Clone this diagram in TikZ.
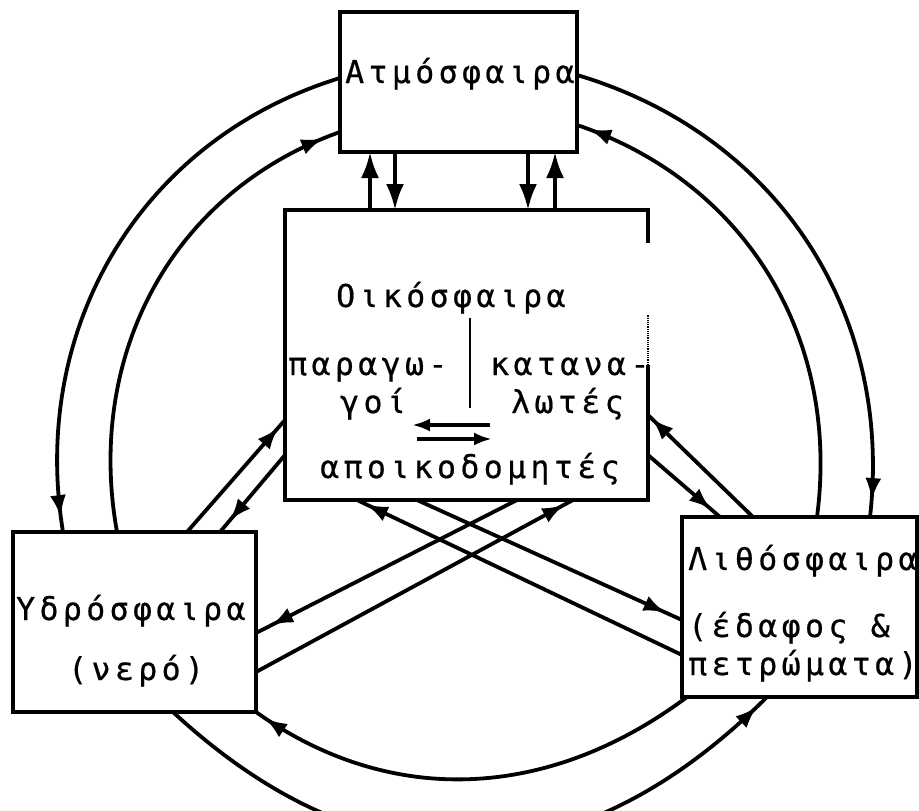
\documentclass[tikz,border=0pt]{standalone}
\usepackage{fontspec}
\usetikzlibrary{arrows.meta,decorations.markings}
\newfontfamily\typ[LetterSpace=14,FakeBold=0.6]{DejaVu Sans Mono}
\begin{document}
\begin{tikzpicture}[x=1pt,y=1pt,
  boxstyle/.style={draw, line width=3.4pt, inner sep=0pt, outer sep=0pt},
  lbl/.style={anchor=base west, inner sep=0pt, font=\typ\fontsize{31.5pt}{31.5pt}\selectfont},
  link/.style={line width=3.8pt},
  tipnear/.style={postaction={decorate}, decoration={markings, mark=at position -#1 with {\arrow{Latex[length=22pt,width=16pt]}}}},
  tipend/.style={-{Latex[length=26pt,width=18pt]}},
  tipsmall/.style={-{Latex[length=18pt,width=13pt]}},
]
\useasboundingbox (0,0) rectangle (919,-811);

% boxes
\node[boxstyle, minimum width=237pt, minimum height=140pt] (atm) at (458.5,-82) {};
\node[inner sep=0pt, outer sep=0pt, minimum width=363pt, minimum height=290pt] (eco) at (466.5,-355) {};
\node[boxstyle, minimum width=243pt, minimum height=180pt] (hyd) at (134.5,-622) {};
\node[boxstyle, minimum width=235pt, minimum height=180pt] (lit) at (799.5,-607) {};

% ecosphere outline (broken right side as printed)
\draw[line width=3.4pt] ([yshift=-33pt]eco.north east) -- (eco.north east) -- (eco.north west) -- (eco.south west) -- (eco.south east) -- ([yshift=135pt]eco.south east);
\draw[line width=1.2pt, densely dotted] ([yshift=135pt]eco.south east) -- ([yshift=185pt]eco.south east);

% texts
\node[lbl] (t1) at (345,-83) {Ατμόσφαιρα};
\node[lbl] (t2) at (336,-307) {Οικόσφαιρα};
\node[lbl] (t3) at (288,-375) {παραγω-};
\node[lbl] (t4) at (490,-375) {κατανα-};
\node[lbl] (t5) at (340,-413) {γοί};
\node[lbl] (t6) at (511,-413) {λωτές};
\node[lbl] (t7) at (320,-478) {αποικοδομητές};
\node[lbl] (t8) at (16,-620) {Υδρόσφαιρα};
\node[lbl] (t9) at (68,-680) {(νερό)};
\node[lbl] (t10) at (688,-570) {Λιθόσφαιρα};
\node[lbl] (t11) at (688,-637) {(έδαφος \&};
\node[lbl] (t12) at (688,-675) {πετρώματα)};

% inside ecosphere
\coordinate (dv1) at (470,-318); \coordinate (dv2) at (470,-408);
\draw[line width=2.6pt] (dv1) -- (dv2);
\coordinate (pl1) at (490,-425); \coordinate (pl2) at (412,-425);
\coordinate (pr1) at (417,-439); \coordinate (pr2) at (492,-439);
\draw[link, tipsmall] (pl1) -- (pl2);
\draw[link, tipsmall] (pr1) -- (pr2);

% vertical arrows atmosphere <-> ecosphere
\draw[link, tipend] ([xshift=85pt]eco.north west) -- ([xshift=30pt]atm.south west);
\draw[link, tipend] ([xshift=55pt]atm.south west) -- ([xshift=110pt]eco.north west);
\draw[link, tipend] ([xshift=188pt]atm.south west) -- ([xshift=243pt]eco.north west);
\draw[link, tipend] ([xshift=270pt]eco.north west) -- ([xshift=215pt]atm.south west);

% outer ring arcs
\draw[link, tipnear=15pt] ([yshift=-66pt]atm.north west) to[out=197, in=99.3] ([xshift=50pt]hyd.north west);
\draw[link, tipnear=18pt] ([xshift=104pt]hyd.north west) to[out=100.2, in=199.5] ([yshift=20pt]atm.south west);
\draw[link, tipnear=17pt] ([yshift=-63pt]atm.north east) to[out=-16.5, in=83.5] ([xshift=188pt]lit.north west);
\draw[link, tipnear=13pt] ([xshift=135pt]lit.north west) to[out=82.5, in=-18.7] ([yshift=27pt]atm.south east);
\draw[link, tipnear=14pt] ([xshift=160pt]hyd.south west) to[out=-42.8, in=224.9, looseness=1.15] ([xshift=85pt]lit.south west);
\draw[link, tipnear=11pt] ([xshift=5pt]lit.south west) to[out=216.8, in=-35.4] (hyd.south east);

% diagonals hydrosphere <-> ecosphere
\draw[link, tipnear=10pt] ([xshift=174pt]hyd.north west) -- ([yshift=-210pt]eco.north west);
\draw[link, tipnear=15pt] ([yshift=-245pt]eco.north west) -- ([xshift=207pt]hyd.north west);
% diagonals lithosphere <-> ecosphere
\draw[link, tipnear=5pt] ([xshift=71pt]lit.north west) -- ([yshift=-205pt]eco.north east);
\draw[link, tipnear=12pt] ([yshift=-245pt]eco.north east) -- ([xshift=38pt]lit.north west);
% crossing lines
\draw[link, tipnear=10pt] ([yshift=-138pt]lit.north west) -- ([xshift=72pt]eco.south west);
\draw[link, tipnear=18pt] ([xshift=132pt]eco.south west) -- ([yshift=-103pt]lit.north west);
\draw[link, tipnear=10pt] ([yshift=-140pt]hyd.north east) -- ([xshift=288pt]eco.south west);
\draw[link, tipnear=17pt] ([xshift=232pt]eco.south west) -- ([yshift=-101pt]hyd.north east);
\end{tikzpicture}
\end{document}
